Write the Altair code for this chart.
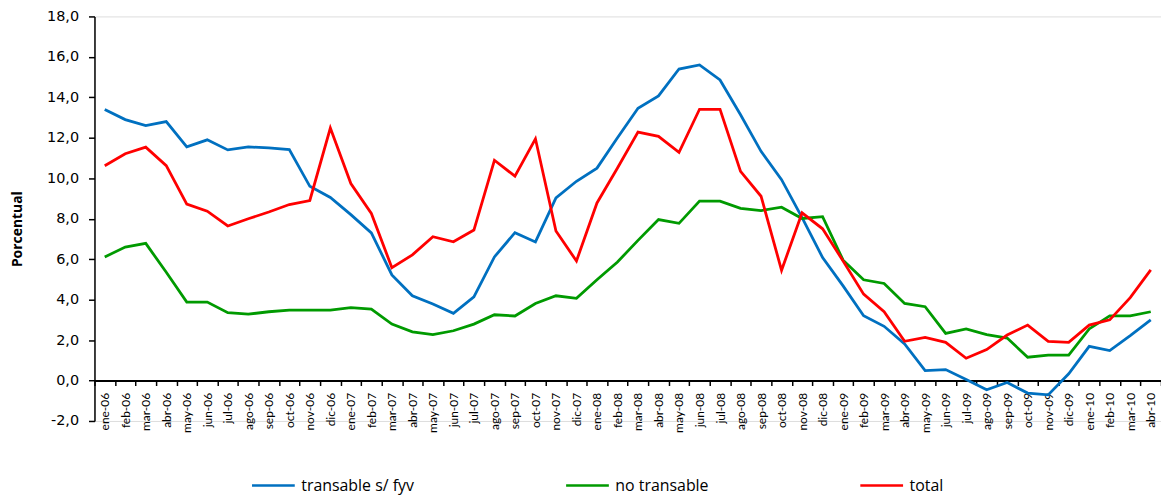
import altair as alt
import pandas as pd

months = []
for yy in ["06", "07", "08", "09"]:
    for m in ["ene", "feb", "mar", "abr", "may", "jun", "jul", "ago", "sep", "oct", "nov", "dic"]:
        months.append(f"{m}-{yy}")
months += ["ene-10", "feb-10", "mar-10", "abr-10"]

transable = [13.4, 12.9, 12.6, 12.8, 11.55, 11.9, 11.4, 11.55, 11.5, 11.42, 9.6, 9.05,
             8.2, 7.3, 5.22, 4.19, 3.78, 3.32, 4.14, 6.11, 7.31, 6.85, 9.03, 9.85,
             10.5, 12.0, 13.46, 14.07, 15.4, 15.6, 14.86, 13.14, 11.33, 9.93, 8.05, 6.08,
             4.68, 3.2, 2.68, 1.81, 0.49, 0.54, 0.05, -0.46, -0.1, -0.62, -0.71, 0.33,
             1.69, 1.48, 2.22, 3.0]
no_transable = [6.11, 6.6, 6.78, 5.35, 3.88, 3.88, 3.35, 3.28, 3.4, 3.48, 3.48, 3.48,
                3.6, 3.53, 2.79, 2.41, 2.27, 2.46, 2.79, 3.25, 3.19, 3.81, 4.19, 4.06,
                4.98, 5.86, 6.93, 7.96, 7.77, 8.87, 8.87, 8.51, 8.4, 8.57, 8.01, 8.1,
                5.95, 4.98, 4.8, 3.81, 3.65, 2.33, 2.55, 2.27, 2.1, 1.15, 1.26, 1.26,
                2.55, 3.2, 3.2, 3.4]
total = [10.62, 11.21, 11.54, 10.62, 8.72, 8.37, 7.64, 8.0, 8.33, 8.7, 8.9, 12.48,
         9.74, 8.26, 5.58, 6.21, 7.11, 6.86, 7.44, 10.89, 10.1, 11.95, 7.39, 5.91,
         8.78, 10.51, 12.28, 12.07, 11.28, 13.41, 13.41, 10.34, 9.11, 5.45, 8.29, 7.5,
         5.91, 4.27, 3.4, 1.94, 2.13, 1.89, 1.1, 1.53, 2.25, 2.74, 1.94, 1.89,
         2.74, 3.0, 4.1, 5.47]

series_names = ["transable s/ fyv", "no transable", "total"]
series_colors = ["#0070C0", "#009A00", "#FF0000"]
y_ticks = [-2, 0, 2, 4, 6, 8, 10, 12, 14, 16, 18]

rows = []
for name, vals in zip(series_names, [transable, no_transable, total]):
    for mth, v in zip(months, vals):
        rows.append({"mes": mth, "serie": name, "valor": v})
df = pd.DataFrame(rows)

W = 1073
H = 407
x_offset = -(2.0 / 20.0) * H

y_label_expr = "replace(replace(format(datum.value, '.1f'), '.', ','), '\u2212', '-')"

chart = alt.Chart(df).mark_line(strokeWidth=2.8).encode(
    x=alt.X("mes:N", sort=months,
            scale=alt.Scale(paddingInner=0, paddingOuter=0),
            axis=alt.Axis(title=None, labelAngle=270, labelFont="Lato", labelFontSize=12,
                          labelColor="#000000", labelPadding=7, tickBand="extent",
                          tickSize=5, tickColor="#000000", tickWidth=1.5,
                          domainColor="#000000", domainWidth=2, offset=x_offset,
                          labelOverlap=False)),
    y=alt.Y("valor:Q",
            scale=alt.Scale(domain=[-2, 18], nice=False, zero=False),
            axis=alt.Axis(title="Porcentual", values=y_ticks,
                          labelExpr=y_label_expr,
                          labelFont="DejaVu Sans", labelFontSize=14.5, labelColor="#000000",
                          labelPadding=10, tickSize=6, tickColor="#000000", tickWidth=1.5,
                          domainColor="#000000", domainWidth=1.5, grid=False,
                          titleFont="Open Sans", titleFontWeight="bold", titleFontSize=14,
                          titleColor="#000000", titleX=-77, titleY=H / 2 + 10,
                          titleAngle=270, titleAlign="center", titleBaseline="middle")),
    color=alt.Color("serie:N", sort=series_names,
                    scale=alt.Scale(domain=series_names, range=series_colors),
                    legend=alt.Legend(title=None, orient="none", direction="horizontal",
                                      legendX=157, legendY=449, padding=0,
                                      symbolType="stroke", symbolSize=1849,
                                      symbolStrokeWidth=2.5, labelFont="Open Sans",
                                      labelFontSize=16, labelColor="#000000",
                                      labelOffset=5, columnPadding=147,
                                      labelLimit=400)),
).properties(
    width=W, height=H,
    autosize=alt.AutoSizeParams(type="none"),
    padding={"left": 87, "top": 7, "right": 0, "bottom": 73},
).configure_view(stroke=None).configure(background="#ffffff")

chart.save("out.html", embed_options={"renderer": "svg", "actions": False})
